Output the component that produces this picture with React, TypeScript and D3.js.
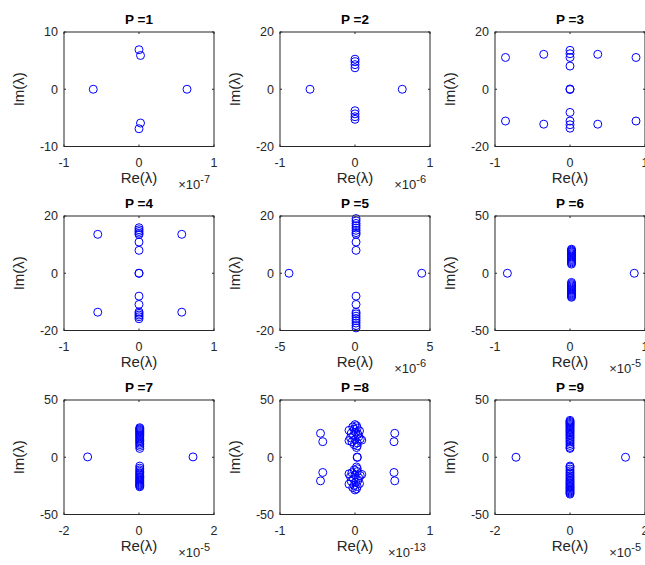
import React from "react";
import * as d3 from "d3";

// ---- Data (real parts are in units of the x-axis multiplier) ----
const titles = ["P =1", "P =2", "P =3", "P =4", "P =5", "P =6", "P =7", "P =8", "P =9"];
const xDomains: [number, number][] = [[-1, 1], [-1, 1], [-1, 1], [-1, 1], [-5, 5], [-1, 1], [-2, 2], [-1, 1], [-2, 2]];
const yDomains: [number, number][] = [[-10, 10], [-20, 20], [-20, 20], [-20, 20], [-20, 20], [-50, 50], [-50, 50], [-50, 50], [-50, 50]];
const xExponents: (string | null)[] = ["-7", "-6", null, null, "-6", "-5", "-5", "-13", "-5"];

const p1: [number, number][] = [[-0.61, 0], [0.64, 0], [0, 6.9], [0.02, 5.9], [0.02, -5.9], [0, -6.9]];
const p2: [number, number][] = [[-0.6, 0], [0.63, 0], [0, 10.5], [0, 9.6], [0, 8.6], [0, 7.5], [0, -7.5], [0, -8.6], [0, -9.6], [0, -10.5]];
const p3: [number, number][] = [
  [-0.86, 11.1], [-0.86, -11.1], [0.88, 11.1], [0.88, -11.1], [-0.35, 12.2], [-0.35, -12.2], [0.37, 12.2], [0.37, -12.2],
  [0, 13.6], [0, 12.4], [0, 11.1], [0, 8.1], [0, 0.1], [0, -0.1], [0, -8.1], [0, -11.1], [0, -12.4], [0, -13.6],
];
const p4: [number, number][] = [
  [-0.55, 13.6], [-0.55, -13.6], [0.57, 13.6], [0.57, -13.6],
  [0, 15.9], [0, 15.2], [0, 14.6], [0, 14.0], [0, 13.5], [0, 10.9], [0, 8.0], [0, 0], [0, 0],
  [0, -8.0], [0, -10.9], [0, -13.5], [0, -14.0], [0, -14.6], [0, -15.2], [0, -15.9],
];
const p5: [number, number][] = [
  [-4.4, 0], [4.45, 0],
  [0.07, 19.1], [0.07, 18.3], [0.07, 17.4], [0.07, 16.6], [0.07, 15.8], [0.07, 15.0], [0.07, 14.2], [0.07, 13.6], [0.07, 10.9], [0.07, 8.0],
  [0.07, -8.0], [0.07, -10.9], [0.07, -13.6], [0.07, -14.2], [0.07, -15.0], [0.07, -15.8], [0.07, -16.6], [0.07, -17.4], [0.07, -18.3], [0.07, -19.1],
];
const p6: [number, number][] = [
  [-0.835, 0], [0.857, 0],
  [0.02, 21], [0.02, 20.2], [0.02, 19.4], [0.02, 18.6], [0.02, 17.8], [0.02, 17], [0.02, 16], [0.02, 15], [0.02, 14], [0.02, 13], [0.02, 12], [0.02, 11], [0.02, 10], [0.02, 9], [0.02, 8],
  [0.02, -8], [0.02, -9], [0.02, -10], [0.02, -11], [0.02, -12], [0.02, -13], [0.02, -14], [0.02, -15], [0.02, -16], [0.02, -17], [0.02, -17.8], [0.02, -18.6], [0.02, -19.4], [0.02, -20.2], [0.02, -21],
];
const p7: [number, number][] = [
  [-1.37, 0.3], [1.44, 0.3],
  [0.02, 25.8], [0.02, 25], [0.02, 24.2], [0.02, 23.4], [0.02, 22.5], [0.02, 21.6], [0.02, 20.7], [0.02, 19.8], [0.02, 18.8], [0.02, 17.8], [0.02, 16.8], [0.02, 15.7], [0.02, 14.6], [0.02, 13.5], [0.02, 12.3], [0.02, 11], [0.02, 9.5], [0.02, 7.7],
  [0.02, -7.7], [0.02, -9.5], [0.02, -11], [0.02, -12.3], [0.02, -13.5], [0.02, -14.6], [0.02, -15.7], [0.02, -16.8], [0.02, -17.8], [0.02, -18.8], [0.02, -19.8], [0.02, -20.7], [0.02, -21.6], [0.02, -22.5], [0.02, -23.4], [0.02, -24.2], [0.02, -25], [0.02, -25.8],
];
const p8: [number, number][] = [
  [-0.46, 20.9], [-0.43, 13.6], [0.53, 20.9], [0.52, 13.6], [-0.46, -20.6], [-0.43, -13.3], [0.53, -20.6], [0.52, -13.3],
  [0.03, 0.2], [0.03, -0.2],
  [0.0, 28.5], [0.02, 27.5], [-0.03, 26.5], [0.03, 25.5], [-0.01, 24.5], [-0.08, 23.5], [0.06, 23], [0.01, 22], [-0.05, 21], [0.04, 20],
  [-0.02, 19], [0.05, 18], [-0.06, 17], [0.07, 16], [-0.08, 14.5], [0.09, 15], [0.0, 15.5], [-0.04, 13.5], [0.03, 12.5], [-0.01, 11], [0.03, 10], [0.02, 8.5],
  [0.0, -28.5], [0.02, -27.5], [-0.03, -26.5], [0.03, -25.5], [-0.01, -24.5], [-0.08, -23.5], [0.06, -23], [0.01, -22], [-0.05, -21], [0.04, -20],
  [-0.02, -19], [0.05, -18], [-0.06, -17], [0.07, -16], [-0.08, -14.5], [0.09, -15], [0.0, -15.5], [-0.04, -13.5], [0.03, -12.5], [-0.01, -11], [0.03, -10], [0.02, -8.5],
];
const p9: [number, number][] = [
  [-1.44, 0], [1.48, 0],
  [0, 32.2], [0, 31.3], [0, 30.4], [0, 29.5], [0, 28.6], [0, 27.6], [0, 26.6], [0, 25.6], [0, 24.5], [0, 23.4], [0, 22.3], [0, 21.2], [0, 20], [0, 18.8], [0, 17.5], [0, 16.2], [0, 14.8], [0, 13.4], [0, 11.9], [0, 10.3], [0, 8.6], [0, 7.7],
  [0, -7.7], [0, -8.6], [0, -10.3], [0, -11.9], [0, -13.4], [0, -14.8], [0, -16.2], [0, -17.5], [0, -18.8], [0, -20], [0, -21.2], [0, -22.3], [0, -23.4], [0, -24.5], [0, -25.6], [0, -26.6], [0, -27.6], [0, -28.6], [0, -29.5], [0, -30.4], [0, -31.3], [0, -32.2],
];
const panelData = [p1, p2, p3, p4, p5, p6, p7, p8, p9];

// ---- Layout ----
const W = 645;
const H = 565;
const colLeft = [64, 280, 495];
const rowTop = [32, 216, 400];
const boxW = 150;
const boxH = 114.5;
const FONT = "'Liberation Sans', Arial, Helvetica, sans-serif";
const AX = "#262626";
const MARK = "#0000ff";

function Panel({ i }: { i: number }) {
  const left = colLeft[i % 3];
  const top = rowTop[Math.floor(i / 3)];
  const x = d3.scaleLinear().domain(xDomains[i]).range([left, left + boxW]);
  const y = d3.scaleLinear().domain(yDomains[i]).range([top + boxH, top]);
  const xt = [xDomains[i][0], 0, xDomains[i][1]];
  const yt = [yDomains[i][0], 0, yDomains[i][1]];
  const bottom = top + boxH;
  const right = left + boxW;
  const tl = 2;
  const exp = xExponents[i];
  return (
    <g>
      {panelData[i].map((d, k) => (
        <circle key={k} cx={x(d[0])} cy={y(d[1])} r={4} fill="none" stroke={MARK} strokeWidth={1} />
      ))}
      <rect x={left} y={top} width={boxW} height={boxH} fill="none" stroke={AX} strokeWidth={1} />
      {xt.map((t) => (
        <g key={"x" + t}>
          <line x1={x(t)} x2={x(t)} y1={bottom} y2={bottom - tl} stroke={AX} />
          <line x1={x(t)} x2={x(t)} y1={top} y2={top + tl} stroke={AX} />
          <text x={x(t)} y={bottom + 20} textAnchor="middle" fontSize={12.5} fill={AX} fontFamily={FONT}>
            {t}
          </text>
        </g>
      ))}
      {yt.map((t) => (
        <g key={"y" + t}>
          <line x1={left} x2={left + tl} y1={y(t)} y2={y(t)} stroke={AX} />
          <line x1={right} x2={right - tl} y1={y(t)} y2={y(t)} stroke={AX} />
          <text x={left - 6} y={y(t)} dy="0.35em" textAnchor="end" fontSize={12.5} fill={AX} fontFamily={FONT}>
            {t}
          </text>
        </g>
      ))}
      <text x={(left + right) / 2} y={top - 8} textAnchor="middle" fontSize={13.5} fontWeight="bold" fill="#000" fontFamily={FONT}>
        {titles[i]}
      </text>
      <text x={(left + right) / 2} y={bottom + 36} textAnchor="middle" fontSize={15} fill={AX} fontFamily={FONT}>
        Re(λ)
      </text>
      <text
        transform={`translate(${left - 40},${(top + bottom) / 2}) rotate(-90)`}
        textAnchor="middle"
        fontSize={15}
        fill={AX}
        fontFamily={FONT}
      >
        Im(λ)
      </text>
      {exp && (
        <text x={right - 4} y={bottom + 42} textAnchor="end" fontSize={13} fill={AX} fontFamily={FONT}>
          ×10
          <tspan dy={-6} fontSize={11}>{exp}</tspan>
        </text>
      )}
    </g>
  );
}

export default function App() {
  return (
    <svg width={W} height={H} style={{ position: "absolute", left: 0, top: 0, background: "#fff" }}>
      <rect x={0} y={0} width={W} height={H} fill="#fff" />
      {titles.map((_, i) => (
        <Panel key={i} i={i} />
      ))}
    </svg>
  );
}
